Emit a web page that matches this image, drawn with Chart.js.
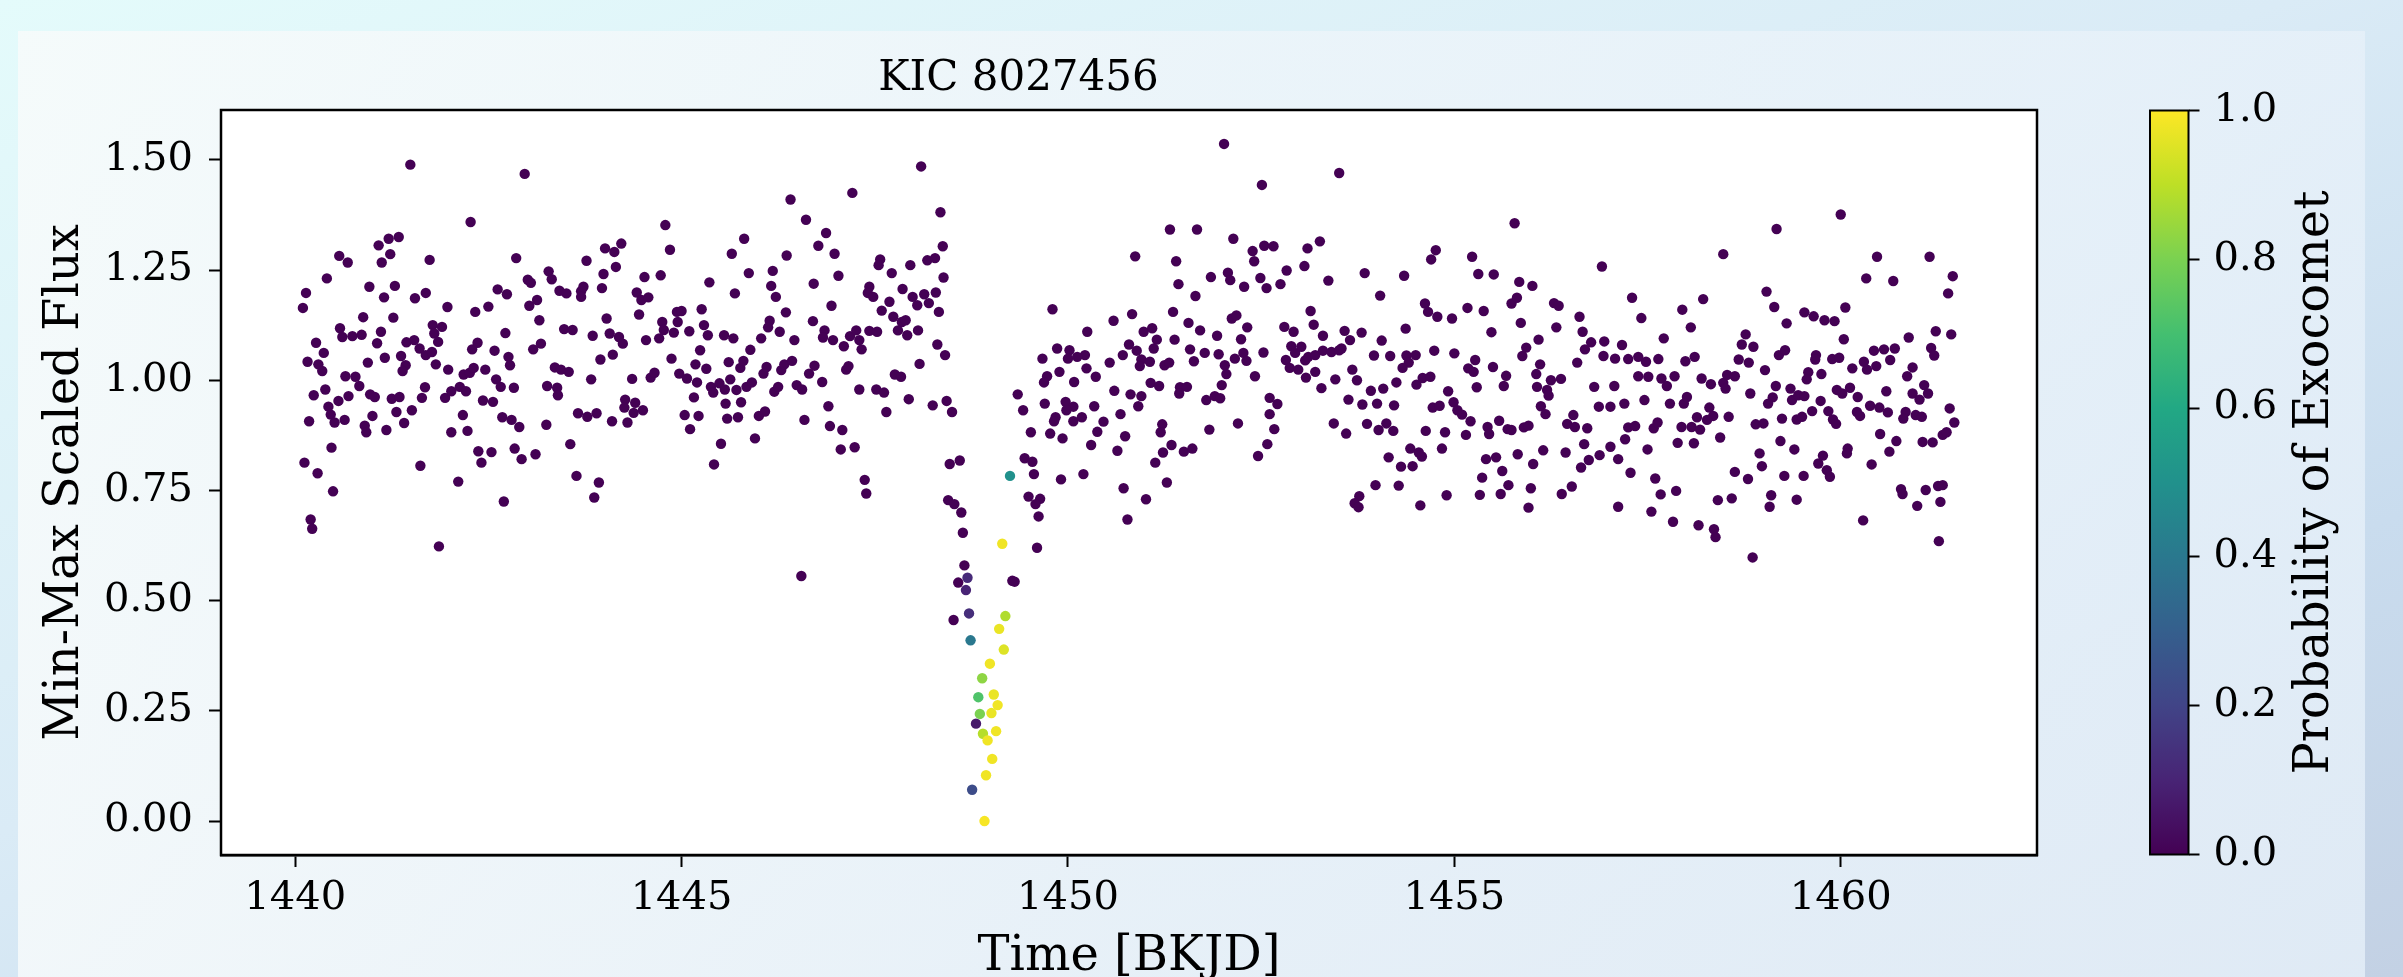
<!DOCTYPE html>
<html>
<head>
<meta charset="utf-8">
<title>KIC 8027456</title>
<script src="https://cdn.jsdelivr.net/npm/chart.js@4.4.0/dist/chart.umd.min.js"></script>
<style>
html, body { margin: 0; padding: 0; }
body {
	width: 2403px; height: 977px; overflow: hidden; position: relative;
	background: linear-gradient(160deg, #e4fbfb 0%, #daebf6 45%, #c9dcee 75%, #c3d1e4 100%);
}
#panel {
	position: absolute; left: 18px; top: 31px; width: 2347px; height: 946px;
	background: linear-gradient(100deg, rgba(248,251,251,0.85) 0%, rgba(238,245,250,0.8) 50%, rgba(230,240,249,0.8) 100%);
}
#lightcurve { position: absolute; left: 0; top: 0; }
#colorbar { position: absolute; left: 2149px; top: 0; }
</style>
</head>
<body>
<div id="panel"></div>
<canvas id="lightcurve" width="2149" height="977"></canvas>
<canvas id="colorbar" width="254" height="977"></canvas>
<script>
window.addEventListener('load', setup);

// light curve before the transit dip (probability ~0)
var preTime = [
1441.49,1442.97,1442.27,1441.08,1441.21,1441.34,1441.23,1441.12,1440.57,1440.68,1441.74,1442.86,1440.41,1440.14,1440.10,1440.96,1441.15,1441.29,1441.55,1441.69,
1441.97,1442.33,1442.50,1442.62,1442.74,1443.01,1443.05,1443.03,1443.13,1440.88,1441.27,1440.58,1440.61,1440.74,1440.86,1441.11,1441.06,1440.27,1440.37,1440.16,
1440.30,1440.35,1440.94,1441.16,1441.37,1441.44,1441.54,1441.61,1441.69,1441.77,1441.78,1441.90,1441.80,1441.85,1441.82,1441.98,1441.43,1441.39,1442.29,1442.36,
1442.58,1442.72,1442.76,1442.78,1443.08,1443.18,1443.16,1440.65,1440.78,1440.83,1440.39,1440.24,1440.69,1440.56,1440.43,1440.46,1440.51,1440.64,1440.18,1440.97,
1441.03,1441.00,1440.90,1440.92,1441.18,1441.25,1441.35,1441.31,1441.41,1441.51,1441.64,1441.68,1441.94,1442.02,1442.13,1442.21,1442.18,1442.26,1442.31,1442.46,
1442.60,1442.66,1442.83,1442.43,1442.56,1442.17,1442.02,1442.23,1442.68,1442.80,1442.90,1440.47,1440.12,1440.29,1440.49,1440.20,1440.22,1441.62,1442.11,1441.86,
1442.37,1442.54,1442.41,1442.84,1442.93,1443.11,1442.70,
1446.41,1446.61,1444.79,1444.85,1445.81,1445.65,1446.36,1444.01,1444.13,1444.22,1443.77,1444.15,1443.99,1443.97,1443.28,1443.32,1443.42,1443.51,1443.70,1443.73,
1443.70,1444.52,1444.73,1444.42,1444.48,1444.57,1445.36,1445.69,1445.87,1446.18,1446.16,1446.22,1446.35,1444.03,1444.45,1443.48,1443.59,1443.85,1444.07,1444.19,
1444.24,1444.54,1444.71,1444.75,1444.77,1444.90,1444.94,1445.00,1444.95,1445.10,1445.26,1445.29,1445.34,1445.55,1445.67,1446.03,1446.14,1446.12,1446.27,1446.46,
1443.95,1444.11,1443.83,1443.36,1443.44,1443.54,1443.26,1443.39,1443.40,1444.36,1444.60,1444.65,1444.87,1444.97,1445.07,1445.20,1445.18,1445.24,1445.32,1445.38,
1445.41,1445.49,1445.56,1445.61,1445.63,1445.71,1445.76,1445.80,1445.84,1445.91,1445.89,1446.06,1446.10,1446.20,1446.25,1446.29,1446.33,1446.43,1446.49,1446.56,
1446.65,1443.25,1443.66,1443.78,1443.90,1444.10,1444.27,1444.26,1444.40,1444.38,1444.50,1444.30,1445.04,1445.22,1445.16,1445.11,1445.57,1445.77,1445.59,1445.73,
1446.00,1446.08,1446.59,1443.56,1445.51,1445.42,1445.95,1443.64,1443.93,1443.87,1446.55,
1448.10,1447.21,1448.35,1448.38,1446.87,1446.77,1446.98,1447.03,1446.71,1447.57,1447.55,1447.72,1447.96,1448.18,1448.28,1448.39,1447.43,1447.41,1447.48,1447.86,
1447.69,1447.59,1447.99,1448.05,1448.14,1448.20,1448.29,1448.33,1446.94,1446.70,1446.85,1446.83,1446.96,1447.10,1447.18,1447.26,1447.30,1447.33,1447.43,1447.53,
1447.74,1447.85,1447.90,1447.80,1447.92,1448.06,1448.31,1448.41,1446.72,1446.82,1447.13,1447.16,1447.30,1447.52,1447.62,1447.76,1447.84,1448.08,1447.94,1447.65,
1446.90,1446.92,1447.08,1447.06,1447.24,1448.25,1448.43,1448.50,1447.37,1447.39,1448.47,1448.60,1448.45,1448.53,1448.62,1448.64,1448.66,1448.58,1448.52
];
var preFlux = [
1.489,1.468,1.359,1.306,1.321,1.325,1.286,1.267,1.282,1.267,1.273,1.277,1.231,1.198,1.164,1.212,1.188,1.214,1.186,1.198,
1.166,1.155,1.167,1.206,1.195,1.228,1.221,1.169,1.182,1.143,1.142,1.118,1.098,1.100,1.103,1.110,1.084,1.085,1.062,1.042,
1.036,1.021,1.040,1.051,1.055,1.086,1.091,1.072,1.057,1.064,1.125,1.121,1.106,1.087,1.036,1.024,1.034,1.021,1.070,1.085,
1.067,1.107,1.053,1.034,1.070,1.083,1.136,1.009,1.008,0.987,0.979,0.966,0.964,0.953,0.940,0.922,0.904,0.910,0.907,0.968,
0.962,0.919,0.897,0.882,0.887,0.958,0.962,0.928,0.903,0.932,0.960,0.984,0.960,0.975,0.985,0.975,1.013,1.017,1.028,1.024,
1.002,0.985,0.983,0.954,0.951,0.921,0.882,0.885,0.916,0.910,0.894,0.847,0.813,0.789,0.748,0.684,0.663,0.806,0.770,0.623,
0.839,0.837,0.813,0.845,0.821,0.832,0.725,
1.410,1.364,1.352,1.296,1.321,1.287,1.283,1.299,1.291,1.310,1.271,1.257,1.241,1.209,1.247,1.229,1.203,1.197,1.202,1.212,
1.189,1.234,1.238,1.199,1.182,1.188,1.222,1.197,1.243,1.248,1.214,1.189,1.154,1.140,1.149,1.116,1.114,1.101,1.106,1.098,
1.083,1.091,1.095,1.132,1.114,1.108,1.155,1.157,1.132,1.111,1.161,1.125,1.102,1.102,1.095,1.095,1.135,1.120,1.110,1.091,
1.047,1.058,1.002,1.029,1.024,1.019,0.987,0.983,0.966,1.003,1.006,1.017,1.049,1.015,1.004,0.995,1.036,1.068,1.026,0.985,
0.972,0.993,0.979,1.041,1.002,0.978,1.028,1.044,0.985,0.995,1.069,1.015,1.030,0.974,0.985,1.023,1.036,1.044,0.989,0.979,
1.015,0.899,0.925,0.917,0.925,0.907,0.956,0.938,0.949,0.926,0.932,0.904,0.921,0.919,0.961,0.889,0.947,0.950,0.913,0.916,
0.919,0.929,0.910,0.855,0.856,0.809,0.868,0.783,0.768,0.734,0.556,
1.485,1.425,1.381,1.304,1.334,1.305,1.287,1.237,1.219,1.274,1.261,1.243,1.261,1.272,1.277,1.233,1.212,1.198,1.189,1.207,
1.178,1.158,1.189,1.170,1.195,1.175,1.199,1.155,1.169,1.134,1.113,1.097,1.091,1.077,1.100,1.113,1.091,1.070,1.112,1.110,
1.144,1.132,1.136,1.113,1.102,1.113,1.081,1.057,1.033,0.996,1.024,1.032,0.979,0.979,0.972,1.013,1.008,1.037,0.957,0.928,
0.941,0.896,0.887,0.843,0.848,0.943,0.953,0.928,0.774,0.743,0.810,0.818,0.728,0.719,0.700,0.654,0.580,0.541,0.456
];

// light curve after the transit dip (probability ~0)
var postTime = [
1449.80,1449.86,1450.02,1450.00,1449.67,1449.89,1449.73,1449.69,1450.08,1449.35,1449.42,1449.70,1449.97,1450.07,1449.98,1449.84,1449.82,1450.07,1449.52,1449.77,
1449.93,1449.44,1449.54,1449.56,1449.91,1449.49,1449.64,1449.58,1449.62,1449.60,1449.28,1449.31,
1452.02,1452.51,1453.51,1451.32,1451.67,1452.14,1450.87,1451.40,1451.43,1451.65,1451.85,1452.07,1452.10,1452.28,1452.39,1452.41,1452.54,1452.66,1452.49,1452.57,
1452.75,1452.83,1453.06,1453.10,1453.26,1453.37,1450.59,1450.83,1451.36,1450.25,1450.98,1451.09,1451.15,1451.11,1451.38,1451.56,1451.71,1451.93,1452.12,1452.18,
1452.32,1452.24,1453.14,1453.18,1452.80,1452.92,1453.30,1450.79,1450.89,1450.71,1450.54,1450.95,1450.93,1451.06,1451.25,1451.31,1451.58,1451.63,1451.77,1451.95,
1452.03,1452.05,1452.16,1452.27,1452.31,1452.53,1452.42,1452.89,1452.94,1453.02,1452.82,1452.87,1452.98,1453.07,1453.11,1453.20,1453.30,1453.41,1453.51,1453.08,
1453.20,1453.28,1453.46,1450.22,1450.12,1450.24,1450.36,1450.60,1450.81,1450.95,1450.91,1450.68,1450.34,1450.18,1450.46,1450.38,1450.74,1450.30,1450.64,1451.07,
1451.18,1451.45,1451.54,1451.44,1451.79,1451.90,1451.97,1451.99,1451.22,1451.20,1451.34,1451.23,1451.13,1451.50,1451.61,1451.83,1452.20,1452.61,1452.71,1452.61,
1452.67,1452.58,1452.46,1453.44,1450.20,1450.72,1451.01,1450.77,1451.28,
1455.78,1454.76,1454.70,1455.23,1453.84,1454.35,1455.31,1455.51,1454.04,1454.62,1454.66,1454.78,1454.97,1455.17,1455.38,1455.84,1456.01,1455.74,1455.81,1455.86,
1455.48,1456.29,1456.35,1456.62,1456.32,1456.66,1456.91,1456.09,1456.77,1456.69,1456.94,1456.93,1453.58,1453.65,1453.54,1453.80,1454.06,1454.37,1453.96,1454.17,
1454.38,1454.50,1454.41,1454.33,1454.74,1455.00,1453.68,1453.74,1454.25,1454.51,1454.59,1454.69,1453.92,1454.08,1453.63,1453.81,1454.00,1454.22,1454.92,1454.99,
1455.04,1455.10,1454.72,1454.81,1455.21,1455.27,1455.18,1455.25,1455.50,1455.29,1455.67,1455.64,1455.88,1455.93,1456.11,1456.06,1456.07,1456.20,1456.25,1456.38,
1456.22,1456.12,1456.18,1456.59,1456.81,1456.87,1456.54,1456.46,1456.56,1456.72,1453.60,1453.87,1454.02,1454.12,1454.21,1454.63,1454.88,1455.15,1455.43,1455.45,
1455.58,1455.69,1455.74,1455.90,1455.96,1454.15,1454.31,1454.46,1454.43,1454.54,1454.58,1454.84,1455.41,1455.54,1455.82,1455.62,1456.02,1456.15,1456.44,1456.68,
1456.74,1456.64,1456.88,1453.98,1454.28,1453.77,1453.71,1453.76,1454.56,1454.90,1455.36,1455.33,1455.60,1455.70,1455.99,1455.96,1456.39,1456.52,
1458.48,1459.17,1457.30,1457.42,1457.95,1458.22,1458.06,1457.71,1459.04,1459.14,1459.30,1457.17,1457.08,1457.25,1457.38,1457.48,1457.64,1457.99,1458.11,1458.77,
1458.72,1458.87,1458.68,1458.81,1459.20,1459.28,1459.02,1457.38,1457.51,1457.68,1457.75,1457.85,1457.07,1458.20,1458.32,1458.48,1458.53,1458.63,1458.51,1458.83,
1459.16,1459.12,1459.06,1459.35,1459.37,1459.45,1457.02,1457.20,1457.46,1457.79,1457.97,1458.01,1458.30,1458.35,1458.27,1458.14,1458.07,1458.18,1457.94,1458.55,
1457.25,1457.34,1457.21,1457.58,1457.63,1458.90,1459.00,1459.24,1459.43,1457.02,1457.12,1457.50,1457.89,1458.10,1458.44,1459.22,1459.40,1458.95,1458.98,1457.28,
1457.60,1457.67,1457.87,1458.63,1458.80,1459.27,1457.12,1457.55,1457.83,1458.16,1458.36,1458.38,1458.41,1458.59,1459.10,1459.08,1459.43,1458.86,
1460.00,1460.47,1461.15,1460.33,1460.68,1461.45,1461.39,1460.06,1459.53,1459.65,1459.79,1459.92,1460.04,1460.88,1461.23,1461.43,1459.68,1459.67,1459.89,1459.98,
1460.15,1460.30,1460.34,1460.43,1460.46,1460.56,1460.64,1460.70,1460.93,1460.86,1461.17,1461.21,1459.58,1459.56,1459.75,1459.95,1460.02,1460.12,1460.22,1460.59,
1460.93,1461.02,1461.08,1461.13,1459.53,1459.63,1459.74,1459.50,1459.84,1459.90,1459.94,1460.21,1460.25,1460.38,1460.50,1460.61,1460.84,1460.81,1460.97,1461.05,
1461.41,1461.47,1460.51,1460.72,1461.06,1461.19,1461.32,1461.37,1460.09,1460.08,1460.63,1459.77,1459.71,1459.82,1459.86,1460.40,1459.52,1460.78,1460.80,1461.10,
1461.26,1461.32,1460.99,1461.29,1460.29,1461.27
];
var postFlux = [
1.161,1.072,1.068,1.049,1.049,1.019,1.009,0.995,0.996,0.968,0.932,0.947,0.951,0.940,0.932,0.916,0.907,0.907,0.882,0.879,
0.868,0.823,0.815,0.787,0.775,0.736,0.731,0.719,0.691,0.620,0.545,0.543,
1.536,1.443,1.470,1.342,1.342,1.321,1.281,1.270,1.218,1.191,1.234,1.244,1.227,1.212,1.293,1.270,1.305,1.304,1.232,1.209,
1.218,1.249,1.259,1.299,1.315,1.226,1.135,1.150,1.155,1.110,1.110,1.118,1.092,1.072,1.092,1.130,1.113,1.101,1.140,1.147,
1.120,1.093,1.157,1.126,1.121,1.110,1.101,1.081,1.067,1.057,1.040,1.047,1.032,1.042,1.034,1.040,1.070,1.043,1.062,1.059,
1.034,1.014,1.049,1.062,1.044,1.063,1.009,1.077,1.062,1.076,1.046,1.028,1.024,1.045,1.053,1.057,1.067,1.064,1.068,1.006,
1.019,0.982,1.002,1.057,1.053,1.027,1.008,0.976,0.968,0.964,0.941,0.923,0.941,0.916,0.906,0.883,0.873,0.853,0.840,0.994,
0.987,0.984,0.985,0.970,0.955,0.964,0.959,0.989,0.900,0.882,0.853,0.836,0.813,0.838,0.845,0.888,0.902,0.960,0.946,0.923,
0.889,0.855,0.828,0.902,0.787,0.755,0.730,0.684,0.768,
1.356,1.295,1.274,1.280,1.243,1.237,1.241,1.240,1.192,1.174,1.155,1.144,1.140,1.164,1.157,1.223,1.214,1.174,1.187,1.130,
1.109,1.175,1.169,1.144,1.120,1.110,1.258,1.092,1.086,1.070,1.088,1.055,1.112,1.091,1.072,1.108,1.090,1.117,1.056,1.055,
1.056,1.057,1.040,1.028,1.067,1.061,1.024,1.000,0.995,0.990,1.005,1.008,0.976,0.981,0.956,0.945,0.947,0.943,0.975,0.950,
0.932,0.922,0.938,0.942,0.907,1.046,1.027,1.019,1.030,0.984,1.010,0.987,1.055,1.074,1.036,1.014,0.985,0.978,1.000,1.003,
0.965,0.941,0.923,1.040,0.985,0.940,0.921,0.901,0.894,0.891,0.879,0.901,0.887,0.902,0.885,0.885,0.882,0.876,0.894,0.878,
0.908,0.889,0.887,0.893,0.897,0.825,0.804,0.805,0.845,0.836,0.827,0.845,0.821,0.825,0.832,0.794,0.810,0.841,0.836,0.855,
0.819,0.802,0.830,0.762,0.761,0.737,0.721,0.712,0.716,0.739,0.779,0.740,0.742,0.762,0.755,0.711,0.742,0.759,
1.286,1.343,1.187,1.141,1.160,1.184,1.120,1.095,1.201,1.166,1.129,1.080,1.049,1.048,1.053,1.042,1.048,1.043,1.053,1.104,
1.081,1.076,1.047,1.040,1.057,1.068,1.023,1.009,1.008,1.004,0.987,1.009,0.987,1.004,0.991,0.994,1.012,1.009,0.981,0.970,
0.987,0.961,0.947,0.981,0.955,0.966,0.940,0.947,0.955,0.947,0.947,0.962,0.938,0.919,0.910,0.916,0.894,0.888,0.894,0.917,
0.893,0.896,0.866,0.891,0.904,0.900,0.902,0.913,0.911,0.849,0.821,0.843,0.858,0.857,0.870,0.862,0.843,0.834,0.805,0.790,
0.777,0.741,0.749,0.792,0.776,0.783,0.713,0.702,0.679,0.671,0.662,0.644,0.728,0.732,0.739,0.713,0.729,0.598,
1.376,1.280,1.280,1.231,1.225,1.236,1.197,1.165,1.154,1.145,1.136,1.134,1.093,1.097,1.111,1.104,1.057,1.047,1.048,1.051,
1.027,1.042,1.024,1.067,1.032,1.070,1.046,1.072,1.029,1.009,1.073,1.056,1.018,1.002,1.014,0.978,0.970,0.983,0.962,0.975,
0.970,0.956,0.989,0.970,0.964,0.930,0.953,0.917,0.930,0.911,0.901,0.928,0.919,0.942,0.938,0.927,0.928,0.913,0.921,0.917,
0.936,0.904,0.878,0.862,0.860,0.859,0.876,0.882,0.845,0.834,0.838,0.829,0.811,0.796,0.781,0.809,0.783,0.753,0.742,0.751,
0.760,0.762,0.715,0.724,0.682,0.635
];

// points inside the dip, each with its classifier probability
var dipTime = [1449.25,1449.15,1448.70,1448.68,1448.72,1449.19,1449.11,1448.74,1449.17,1448.99,1448.89,1448.84,1449.04,1449.09,1449.01,1448.86,1448.81,1448.90,1449.07,1448.96,1449.02,1448.94,1448.76,1448.92];
var dipFlux = [0.783,0.629,0.552,0.524,0.471,0.465,0.436,0.410,0.389,0.357,0.324,0.281,0.287,0.263,0.245,0.243,0.221,0.198,0.204,0.183,0.141,0.104,0.071,0.000];
var dipProb = [0.50,0.98,0.12,0.10,0.13,0.88,0.97,0.40,0.95,0.98,0.83,0.72,0.97,0.98,0.97,0.80,0.07,0.89,0.98,0.98,0.98,0.98,0.23,0.99];

var xTicks = [1440, 1445, 1450, 1455, 1460];
var yTicks = [0, 0.25, 0.5, 0.75, 1.0, 1.25, 1.5];
var cbTicks = [0, 0.2, 0.4, 0.6, 0.8, 1.0];

var viridisStops = ['#440154','#482475','#414487','#355f8d','#2a788e','#21918c','#22a884','#44bf70','#7ad151','#bddf26','#fde725'];

var serif = "'DejaVu Serif', serif";

function hexRgb(h){
	return [parseInt(h.substr(1,2),16), parseInt(h.substr(3,2),16), parseInt(h.substr(5,2),16)];
}

function viridis(p){
	var s = Math.max(0, Math.min(1, p)) * (viridisStops.length - 1);
	var i = Math.min(Math.floor(s), viridisStops.length - 2);
	var f = s - i;
	var a = hexRgb(viridisStops[i]), b = hexRgb(viridisStops[i+1]);
	return "rgb(" + Math.round(a[0] + (b[0]-a[0])*f) + "," + Math.round(a[1] + (b[1]-a[1])*f) + "," + Math.round(a[2] + (b[2]-a[2])*f) + ")";
}

function toPoints(ts, fs){
	var out = [];
	for( var i = 0; i < ts.length; i++){
		out.push({x: ts[i], y: fs[i]});
	}
	return out;
}

function fixedTicks(list){
	return function(scale){
		scale.ticks = list.map(function(v){ return {value: v}; });
	};
}

// white plot face and black box round the axes
var plotFrame = {
	id: 'plotFrame',
	beforeDatasetsDraw: function(chart){
		var a = chart.chartArea, c = chart.ctx;
		c.save();
		c.fillStyle = '#ffffff';
		c.fillRect(a.left, a.top, a.right - a.left, a.bottom - a.top);
		c.restore();
	},
	afterDatasetsDraw: function(chart){
		var a = chart.chartArea, c = chart.ctx;
		c.save();
		c.strokeStyle = '#000';
		c.lineWidth = 2.5;
		c.strokeRect(a.left, a.top, a.right - a.left, a.bottom - a.top);
		c.restore();
	}
};

// border and rotated label of the colour bar
var barFrame = {
	id: 'barFrame',
	afterDatasetsDraw: function(chart){
		var a = chart.chartArea, c = chart.ctx;
		c.save();
		c.strokeStyle = '#000';
		c.lineWidth = 2;
		c.strokeRect(a.left + 1, a.top, a.right - a.left - 1, a.bottom - a.top);
		c.translate(179, (a.top + a.bottom) / 2);
		c.rotate(-Math.PI / 2);
		c.fillStyle = '#000';
		c.font = "48px " + serif;
		c.textAlign = 'center';
		c.textBaseline = 'alphabetic';
		c.fillText('Probability of Exocomet', 0, 0);
		c.restore();
	}
};

function setup(){
	Chart.defaults.font.family = serif;
	Chart.defaults.color = '#000';

	var ctx = document.getElementById("lightcurve");
	var lightCurve = new Chart(ctx, {
		type: 'scatter',
		data: {
			datasets: [
				{
					label: 'before',
					data: toPoints(preTime, preFlux),
					backgroundColor: viridis(0)
				}, {
					label: 'after',
					data: toPoints(postTime, postFlux),
					backgroundColor: viridis(0)
				}, {
					label: 'dip',
					data: toPoints(dipTime, dipFlux),
					backgroundColor: dipProb.map(viridis)
				}
			]
		},
		options: {
			responsive: false,
			animation: false,
			devicePixelRatio: 1,
			elements: { point: { radius: 5.2, hoverRadius: 5.2, borderWidth: 0 } },
			layout: { padding: { left: 0, right: 112, top: 0, bottom: 0 } },
			plugins: {
				legend: { display: false },
				tooltip: { enabled: false },
				title: {
					display: true,
					text: 'KIC 8027456',
					color: '#000',
					font: { size: 42, weight: 'normal', lineHeight: 1.2 },
					padding: { top: 54, bottom: 5.6 }
				}
			},
			scales: {
				x: {
					type: 'linear',
					min: 1439.04,
					max: 1462.54,
					afterBuildTicks: fixedTicks(xTicks),
					afterFit: function(scale){ scale.height = 122; },
					grid: { drawOnChartArea: false, tickLength: 12, tickWidth: 2, tickColor: '#000' },
					border: { display: true, color: '#000', width: 2.5 },
					ticks: { font: { size: 40 }, padding: 8, color: '#000', callback: function(v){ return String(v); } },
					title: { display: true, text: 'Time [BKJD]', color: '#000', font: { size: 48, lineHeight: 0.8 }, padding: { top: 0, bottom: 0.5 } }
				},
				y: {
					type: 'linear',
					min: -0.077,
					max: 1.613,
					afterBuildTicks: fixedTicks(yTicks),
					afterFit: function(scale){ scale.width = 221; },
					grid: { drawOnChartArea: false, tickLength: 12, tickWidth: 2, tickColor: '#000' },
					border: { display: true, color: '#000', width: 2.5 },
					ticks: { font: { size: 40 }, padding: 16, color: '#000', callback: function(v){ return v.toFixed(2); } },
					title: { display: true, text: 'Min-Max Scaled Flux', color: '#000', font: { size: 48, lineHeight: 1 }, padding: { top: 42, bottom: 0 } }
				}
			}
		},
		plugins: [plotFrame]
	});

	var cbx = document.getElementById("colorbar");
	var colorBar = new Chart(cbx, {
		type: 'bar',
		data: {
			labels: ['p'],
			datasets: [
				{
					data: [[cbTicks[0], cbTicks[cbTicks.length - 1]]],
					barPercentage: 1,
					categoryPercentage: 1,
					borderWidth: 0,
					backgroundColor: function(c){
						var area = c.chart.chartArea;
						if (!area) return viridis(0);
						var g = c.chart.ctx.createLinearGradient(0, area.bottom, 0, area.top);
						for( var i = 0; i < viridisStops.length; i++){
							g.addColorStop(i / (viridisStops.length - 1), viridisStops[i]);
						}
						return g;
					}
				}
			]
		},
		options: {
			responsive: false,
			animation: false,
			devicePixelRatio: 1,
			layout: { padding: { left: 0, right: 0, top: 110.5, bottom: 122.5 } },
			plugins: { legend: { display: false }, tooltip: { enabled: false } },
			scales: {
				x: { display: false },
				y: {
					position: 'right',
					min: 0,
					max: 1,
					afterBuildTicks: fixedTicks(cbTicks),
					afterFit: function(scale){ scale.width = 214.5; },
					grid: { drawOnChartArea: false, tickLength: 11, tickWidth: 2, tickColor: '#000' },
					border: { display: false },
					ticks: { font: { size: 40 }, padding: 14, color: '#000', callback: function(v){ return v.toFixed(1); } }
				}
			}
		},
		plugins: [barFrame]
	});
}
</script>
</body>
</html>
